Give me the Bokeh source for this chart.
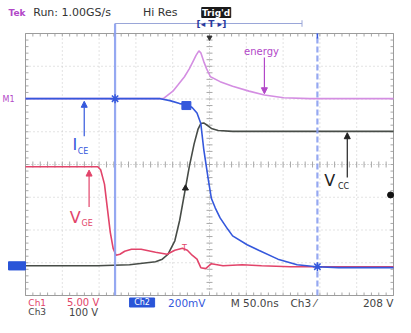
import numpy as np
from bokeh.plotting import figure
from bokeh.models import Range1d, Label, Arrow, NormalHead
from bokeh.core.properties import value
from bokeh.embed import file_html
from bokeh.resources import INLINE

# ---- data: time in ns (50 ns/div, trigger at centre), level in divisions from screen centre ----
vge_t = [-250, -151.8, -147.9, -142.7, -138.8, -134.8, -130.9, -127.0, -121.7, -115.2, -106.0, -92.9,
         -73.3, -57.6, -47.1, -36.7, -30.1, -23.6, -17.0, -11.8, -5.2, 2.6, 18.3, 44.5, 70.7, 110, 250]
vge_y = [-0.07, -0.07, -0.16, -0.60, -1.33, -2.07, -2.56, -2.77, -2.74, -2.65, -2.59, -2.59,
         -2.68, -2.74, -2.62, -2.56, -2.62, -2.77, -2.89, -3.15, -3.18, -3.03, -3.09, -3.06, -3.09, -3.12, -3.12]

ice_t = [-250, -67, -53.7, -40.6, -31.4, -23.6, -17.0, -11.8, -7.9, -1.3, 2.6, 7.9, 14.4, 24.9,
         31.4, 51.1, 66.8, 92.9, 119.1, 145.3, 175.4, 250]
ice_y = [2.01, 2.01, 1.95, 1.86, 1.83, 1.74, 1.57, 1.25, 0.48, -0.51, -1.04, -1.33, -1.63, -1.98,
         -2.18, -2.45, -2.62, -2.89, -3.06, -3.12, -3.15, -3.15]

vce_t = [-250, -151.8, -108.6, -73.3, -64.1, -56.3, -47.1, -40.6, -34.0, -27.5, -20.9, -15.7,
         -11.8, -7.9, -2.6, 2.6, 11.8, 31.4, 250]
vce_y = [-3.09, -3.09, -3.06, -2.97, -2.89, -2.74, -2.33, -1.71, -0.89, -0.07, 0.63, 1.07,
         1.25, 1.27, 1.19, 1.10, 1.04, 1.01, 1.01]

energy_t = [-250, -62.8, -57.6, -49.7, -43.2, -34.0, -27.5, -22.3, -18.3, -14.4, -11.8, -7.9, -3.9,
            1.3, 14.4, 31.4, 53.7, 74.6, 100.8, 136, 250]
energy_y = [2.01, 2.01, 2.10, 2.24, 2.42, 2.68, 2.92, 3.15, 3.33, 3.47, 3.41, 3.15, 2.92,
            2.68, 2.53, 2.39, 2.24, 2.12, 2.04, 2.01, 2.01]

cursor_t = [-128.3, 146.6]
trig_level = [-0.93]

C_RED = "#e2446a"
C_BLUE = "#3558dc"
C_BLACK = "#474c47"
C_PINK = "#d48ee2"
C_CURSOR = "#8a9ff0"
C_MAG = "#b247c8"
FONT = "DejaVu Sans"

NS = 50 / 36.8      # ns per pixel
DV = 1 / 32.75      # div per pixel
X0 = -250 - 25 * NS  # canvas left in ns


def ty_(py):  # canvas pixel row -> divisions
    return 4 + (33 - py) * DV


p = figure(width=395, height=317,
           x_range=Range1d(X0, 250 + 2 * NS),
           y_range=Range1d(-4 - 22 * DV, 4 + 33 * DV),
           x_axis_location=None, y_axis_location=None,
           toolbar_location=None, output_backend="svg", min_border=0)
p.outline_line_color = None
p.grid.visible = False
p.background_fill_color = "white"
p.border_fill_color = "white"

# ---- graticule ----
div_t = [-200, -150, -100, -50, 50, 100, 150, 200]
div_y = [-3, -2, -1, 1, 2, 3]
p.multi_line(xs=[[t, t] for t in div_t], ys=[[-4, 4]] * len(div_t),
             line_color="#c6c6c6", line_dash="1 3", line_width=1)
p.multi_line(xs=[[-250, 250]] * len(div_y), ys=[[y, y] for y in div_y],
             line_color="#c6c6c6", line_dash="1 3", line_width=1)
p.multi_line(xs=[[0, 0], [-250, 250]], ys=[[-4, 4], [0, 0]],
             line_color="#b4b4b4", line_dash="1 2", line_width=1)

tx = np.arange(-250, 251, 10)
tyy = np.round(np.arange(-4, 4.001, 0.2), 3)
dy, dx = 3 * DV, 3 * NS
xs, ys = [], []
for t in tx:
    xs += [[t, t], [t, t], [t, t]]
    ys += [[4, 4 - dy], [-4, -4 + dy], [-dy, dy]]
for y in tyy:
    xs += [[-250, -250 + dx], [250, 250 - dx], [-dx, dx]]
    ys += [[y, y], [y, y], [y, y]]
p.multi_line(xs=xs, ys=ys, line_color="#a8a8a8", line_width=1)
p.quad(left=[-250], right=[250], bottom=[-4], top=[4], fill_color=None,
       line_color="#9c9c9c", line_width=1)

# ---- traces ----
p.line(energy_t, energy_y, line_color=C_PINK, line_width=1.6)
p.line(vce_t, vce_y, line_color=C_BLACK, line_width=1.6)
p.line(vge_t, vge_y, line_color=C_RED, line_width=1.6)
p.line(ice_t, ice_y, line_color=C_BLUE, line_width=1.6)

# ---- cursors ----
p.line([cursor_t[0]] * 2, [-4, ty_(23)], line_color=C_CURSOR, line_width=2.2, line_alpha=0.9)
p.line([cursor_t[1]] * 2, [-4, 4], line_color=C_CURSOR, line_width=2.2, line_dash="6 3", line_alpha=0.9)
for ct in cursor_t:
    p.scatter([ct], [float(np.interp(ct, ice_t, ice_y))], marker="asterisk",
              size=9, line_color=C_BLUE, line_width=1.5)

# channel markers on traces
p.rect([-31.4], [float(np.interp(-31.4, ice_t, ice_y)) - 0.03], width=9 * NS, height=8 * DV,
       fill_color=C_BLUE, line_color=C_BLUE)
p.scatter([-32.7], [float(np.interp(-32.7, vce_t, vce_y))], marker="triangle", size=6,
          fill_color="#222", line_color="#222")
p.text([-34.0], [float(np.interp(-34.0, vge_t, vge_y)) + 0.02], text=["T"], text_color=C_RED,
       text_font_size="8px", text_align="center", text_baseline="middle", text_font=value(FONT))
# trigger level / position
p.scatter([246], trig_level, marker="circle", size=6, fill_color="#111", line_color="#111")
p.scatter([0], [4 - 4 * DV], marker="inverted_triangle", size=5, fill_color="#333", line_color="#333")
p.line([cursor_t[1]] * 2, [4, 4 - 5 * DV], line_color=C_BLUE, line_width=1.5)

# left ground markers
p.quad(left=[X0 + 8 * NS], right=[X0 + 25 * NS], bottom=[-3.22], top=[-2.97],
       fill_color="#2a55d8", line_color="#2a55d8")


def arrow(t, y0, y1, c):
    p.add_layout(Arrow(end=NormalHead(size=6, fill_color=c, line_color=c),
                       x_start=t, y_start=y0, x_end=t, y_end=y1, line_color=c, line_width=1.2))


def lab(x, y, s, c, size, align="left", style="normal"):
    p.add_layout(Label(x=x, y=y, text=s, text_color=c, text_font_size=size, text_align=align,
                       text_baseline="middle", text_font=FONT, text_font_style=style))


lab(X0 + 2 * NS, 2.0, "M1", C_MAG, "8px")

# ---- annotations ----
arrow(-170.2, 0.865, 1.93, C_BLUE)
lab(-186.0, 0.60, "I", C_BLUE, "16px")
lab(-179.0, 0.40, "CE", C_BLUE, "8px")

arrow(-163.6, -1.30, -0.17, C_RED)
lab(-190.0, -1.63, "V", C_RED, "16px")
lab(-174.0, -1.80, "GE", C_RED, "8px")

arrow(187.2, -0.40, 0.97, "#222222")
lab(156.0, -0.48, "V", "#222222", "16px")
lab(174.5, -0.68, "CC", "#222222", "8px")

lab(70.7, 3.44, "energy", C_MAG, "10px", align="center")
arrow(74.6, 3.27, 2.16, C_MAG)

# ---- status line (top) ----
ytop = ty_(12)
lab(X0 + 8 * NS, ytop, "Tek", C_MAG, "9px", style="bold")
lab(-239.5, ytop, "Run: 1.00GS/s", "#333333", "11px")
lab(-90.3, ytop, "Hi Res", "#333333", "11px")
p.quad(left=[-10.5], right=[28.8], bottom=[ty_(17)], top=[ty_(7)], fill_color="#1a1a1a", line_color="#1a1a1a")
lab(9, ytop, "Trig'd", "white", "9px", align="center", style="bold")
yb = ty_(23)
p.line([cursor_t[0], 125.7], [yb, yb], line_color="#9aa6d8", line_width=1)
p.line([125.7, 125.7], [yb - 0.1, yb + 0.1], line_color="#9aa6d8", line_width=1)
lab(2.6, yb, "[◂ T ▸]", "#2b3a9c", "9px", align="center", style="bold")

# ---- bottom readout ----
r1, r2 = ty_(302), ty_(311.5)
lab(-246.1, r1, "Ch1", C_RED, "9px")
lab(-193.7, r1, "5.00 V", C_RED, "10px")
p.quad(left=[-108.6], right=[-74.6], bottom=[ty_(306.5)], top=[ty_(297.5)],
       fill_color="#2a55d8", line_color="#2a55d8")
lab(-91.6, r1, "Ch2", "white", "8px", align="center")
lab(-56.3, r1, "200mV", C_BLUE, "10.5px")
lab(28.8, r1, "M 50.0ns", "#444444", "10.5px")
lab(110, r1, "Ch3 ⁄", "#444444", "10.5px")
lab(250, r1, "208 V", "#444444", "10.5px", align="right")
lab(-246.1, r2, "Ch3", "#444444", "9px")
lab(-191.0, r2, "100 V", "#444444", "10px")

open("out.html", "w").write(file_html(p, INLINE))
